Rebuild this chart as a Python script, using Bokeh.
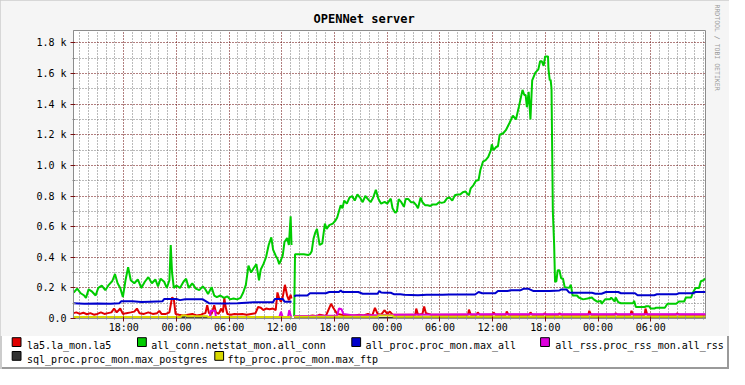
from bokeh.plotting import figure
from bokeh.models import FixedTicker, Range1d, Title
from bokeh.core.properties import value
from bokeh.embed import file_html
from bokeh.resources import INLINE

nan = float("nan")

# ---- axis ticks (hours counted from day-1 00:00) ----
x_tick_hours = [18, 24, 30, 36, 42, 48, 54, 60, 66, 72, 78]
x_tick_labels = ["18:00", "00:00", "06:00", "12:00", "18:00", "00:00",
                 "06:00", "12:00", "18:00", "00:00", "06:00"]
x_minor_hours = [13, 14, 15, 16, 17, 19, 20, 21, 22, 23, 25, 26, 27, 28, 29,
                 31, 32, 33, 34, 35, 37, 38, 39, 40, 41, 43, 44, 45, 46, 47,
                 49, 50, 51, 52, 53, 55, 56, 57, 58, 59, 61, 62, 63, 64, 65,
                 67, 68, 69, 70, 71, 73, 74, 75, 76, 77, 79, 80, 81, 82, 83, 84]
y_tick_values = [0, 200, 400, 600, 800, 1000, 1200, 1400, 1600, 1800]
y_tick_labels = ["0.0", "0.2 k", "0.4 k", "0.6 k", "0.8 k", "1.0 k",
                 "1.2 k", "1.4 k", "1.6 k", "1.8 k"]
y_minor_values = [100, 300, 500, 700, 900, 1100, 1300, 1500, 1700]

# ---- series: (hour, value) ----
la5 = [(12.28, 35), (12.6, 40), (13.0, 30), (13.4, 38), (13.8, 28), (14.2, 35),
       (14.6, 25), (15.0, 30), (15.4, 40), (15.8, 30), (16.2, 35), (16.6, 40),
       (16.9, 65), (17.2, 40), (17.6, 65), (17.9, 30), (18.3, 35), (18.8, 40),
       (19.2, 45), (19.5, 65), (19.8, 35), (20.3, 30), (20.8, 40), (21.3, 30),
       (21.8, 35), (22.05, 50), (22.3, 30), (22.8, 30), (23.2, 40), (23.5, 137),
       (23.7, 127), (23.9, 30), (24.3, 25), (24.8, 20), (25.3, 25), (25.8, 30),
       (26.3, 20), (26.8, 25), (27.0, 30), (27.3, 35), (27.5, 87), (27.7, 35),
       (28.0, 30), (28.3, 87), (28.5, 40), (28.8, 30), (29.1, 65), (29.3, 40),
       (29.45, 137), (29.6, 75), (29.8, 30), (30.2, 25), (30.6, 30), (31.0, 28),
       (31.5, 30), (32.0, 25), (32.5, 30), (33.0, 35), (33.3, 75), (33.6, 70),
       (33.9, 55), (34.2, 65), (34.6, 60), (35.0, 65), (35.3, 55), (35.5, 170),
       (35.7, 130), (35.9, 110), (36.1, 140), (36.35, 220), (36.6, 150),
       (36.8, 120), (37.0, 155), (37.1, 130), (37.2, nan),
       (37.4, 10), (38.0, 15), (38.5, 10), (39.0, 15), (39.5, 20), (40.0, 15),
       (40.3, 25), (40.7, 20), (41.0, 15), (41.6, 96), (41.9, 65), (42.3, 30),
       (42.8, 25), (43.3, 20), (43.8, 20), (44.3, 20), (44.8, 25), (45.3, 20),
       (45.8, 30), (46.3, 20), (46.6, 70), (46.9, 30), (47.3, 25), (47.7, 54),
       (48.0, 30), (48.3, 45), (48.6, 25), (49.5, 25), (51.2, 25), (51.3, 65),
       (51.5, 25), (52.0, 30), (52.2, 79), (52.4, 35), (53.0, 25), (55.0, 25),
       (57.2, 25), (57.3, 58), (57.5, 25), (58.2, 25), (58.3, 40), (58.5, 25),
       (60.0, 25), (60.1, 40), (60.3, 25), (61.5, 25), (61.6, 45), (61.8, 25),
       (64.2, 25), (64.3, 40), (64.5, 25), (65.8, 25), (65.9, 35), (66.1, 25),
       (67.5, 25), (67.6, 35), (67.8, 25), (70.9, 25), (71.0, 50), (71.2, 25),
       (73.9, 25), (74.0, 35), (74.2, 25), (75.7, 25), (75.8, 50), (76.0, 25),
       (77.3, 25), (77.4, 65), (77.6, 25), (80.9, 25), (81.0, 35), (81.2, 25),
       (84.23, 25)]

all_conn = [(12.3, 170), (12.7, 195), (13.1, 165), (13.5, 150), (13.7, 135),
            (14.0, 190), (14.4, 175), (14.8, 150), (15.1, 200), (15.5, 215),
            (15.9, 185), (16.3, 220), (16.7, 245), (17.0, 290), (17.3, 230),
            (17.6, 200), (17.9, 140), (18.2, 250), (18.5, 335), (18.8, 250),
            (19.2, 230), (19.6, 255), (20.0, 200), (20.4, 240), (20.8, 270),
            (21.2, 230), (21.6, 255), (21.9, 210), (22.2, 260), (22.6, 240),
            (22.9, 200), (23.2, 250), (23.35, 480), (23.5, 300), (23.7, 200),
            (24.0, 215), (24.4, 200), (24.8, 240), (25.1, 260), (25.4, 200),
            (25.8, 230), (26.2, 195), (26.6, 185), (27.0, 210), (27.3, 190),
            (27.6, 160), (28.0, 205), (28.3, 150), (28.6, 140), (29.0, 150),
            (29.4, 135), (29.8, 145), (30.1, 125), (30.5, 130), (30.9, 125),
            (31.3, 135), (31.6, 170), (31.9, 220), (32.2, 345), (32.5, 300),
            (32.8, 330), (33.1, 355), (33.4, 250), (33.6, 320), (33.9, 355),
            (34.2, 400), (34.5, 480), (34.8, 530), (35.0, 450), (35.3, 410),
            (35.5, 390), (35.7, 355), (36.1, 410), (36.3, 500), (36.6, 525),
            (36.8, 480), (37.0, 668), (37.1, 480), (37.2, nan),
            (37.4, 15), (37.5, 420), (38.0, 420), (38.5, 420), (39.0, 415),
            (39.2, 420), (39.4, 440), (39.6, 520), (39.8, 560), (40.0, 585),
            (40.3, 480), (40.6, 490), (40.9, 620), (41.1, 585), (41.4, 610),
            (41.8, 620), (42.1, 640), (42.3, 660), (42.5, 700), (42.7, 740),
            (42.9, 720), (43.1, 770), (43.4, 750), (43.7, 790), (44.0, 800),
            (44.3, 770), (44.6, 810), (44.9, 790), (45.2, 760), (45.5, 800),
            (45.8, 780), (46.1, 760), (46.4, 790), (46.7, 840), (47.0, 780),
            (47.3, 750), (47.7, 762), (48.0, 750), (48.4, 783), (48.6, 720),
            (48.9, 690), (49.1, 700), (49.3, 780), (49.6, 760), (49.9, 730),
            (50.1, 780), (50.4, 780), (50.7, 760), (51.0, 760), (51.3, 740),
            (51.5, 720), (51.8, 790), (52.0, 760), (52.3, 740), (52.6, 740),
            (52.9, 735), (53.2, 745), (53.6, 745), (53.9, 760), (54.2, 755),
            (54.5, 760), (54.8, 785), (55.1, 790), (55.4, 770), (55.7, 805),
            (56.0, 810), (56.3, 810), (56.6, 825), (56.9, 830), (57.1, 815),
            (57.3, 805), (57.5, 850), (57.8, 870), (58.1, 900), (58.4, 905),
            (58.6, 970), (58.9, 1025), (59.2, 1035), (59.5, 1055), (59.8, 1100),
            (59.9, 1137), (60.1, 1100), (60.4, 1120), (60.6, 1125), (60.8, 1200),
            (61.2, 1210), (61.5, 1230), (61.9, 1275), (62.3, 1325), (62.65, 1300),
            (63.0, 1387), (63.4, 1493), (63.6, 1460), (63.75, 1460), (63.9, 1380),
            (64.1, 1480), (64.3, 1300), (64.5, 1556), (64.86, 1606), (65.2, 1627),
            (65.4, 1680), (65.6, 1680), (65.8, 1650), (65.97, 1712), (66.3, 1712),
            (66.35, 1630), (66.5, 1556), (66.6, 1560), (66.7, 1500), (66.85, 700),
            (67.0, 480), (67.1, 240), (67.25, 243), (67.4, 315), (67.6, 315),
            (67.8, 262), (68.0, 262), (68.2, 205), (68.7, 200), (68.9, 220),
            (69.1, 150), (69.6, 150), (69.8, 137), (70.3, 125), (70.8, 130),
            (71.3, 137), (71.5, 125), (71.9, 110), (72.3, 115), (72.4, 96),
            (72.8, 125), (73.35, 125), (73.5, 137), (73.9, 110), (74.0, 137),
            (74.3, 106), (74.6, 100), (76.0, 100), (76.1, 115), (76.3, 75),
            (77.3, 75), (77.5, 80), (77.8, 80), (78.0, 65), (78.4, 65),
            (78.6, 70), (79.6, 70), (79.9, 96), (80.9, 96), (81.2, 111),
            (81.8, 111), (82.0, 137), (82.6, 137), (82.8, 170), (83.1, 200),
            (83.5, 200), (83.7, 243), (84.0, 250), (84.23, 262)]

all_proc = [(12.28, 100), (13.5, 97), (15.0, 98), (16.5, 96), (17.5, 100),
            (17.7, 112), (19.0, 112), (20.0, 108), (21.0, 110), (22.4, 112),
            (22.6, 127), (24.0, 127), (24.4, 120), (25.0, 125), (27.0, 125),
            (27.7, 100), (29.0, 98), (31.0, 100), (32.8, 106), (35.0, 106),
            (35.2, 128), (36.1, 128), (36.3, 110), (37.1, 110), (37.2, nan),
            (37.4, 145), (37.6, 150), (38.9, 150), (39.2, 165), (41.0, 165),
            (41.4, 173), (42.5, 173), (42.7, 183), (42.9, 173), (44.7, 173),
            (45.2, 162), (46.9, 162), (47.1, 180), (47.3, 170), (47.7, 168),
            (48.4, 168), (48.8, 158), (49.5, 158), (49.9, 155), (51.5, 152),
            (52.5, 155), (54.3, 155), (55.1, 157), (58.0, 157), (58.4, 173),
            (58.8, 165), (60.3, 165), (60.6, 180), (61.7, 180), (62.1, 185),
            (63.2, 185), (63.5, 194), (64.1, 194), (64.6, 180), (66.5, 180),
            (67.6, 183), (67.8, 190), (68.4, 190), (68.7, 170), (69.1, 168),
            (71.3, 168), (71.7, 162), (72.4, 162), (72.9, 173), (74.3, 173),
            (74.6, 165), (76.2, 165), (76.5, 152), (78.4, 152), (78.7, 158),
            (80.9, 158), (81.2, 165), (82.8, 165), (83.1, 173), (84.23, 173)]

all_rss = [(12.28, 8), (27.8, 8), (27.9, 50), (28.4, 50), (28.5, 8), (35.7, 8),
           (35.9, 43), (36.1, 10), (36.7, 10), (36.85, 55), (37.0, 20),
           (37.1, 10), (37.2, nan), (37.4, 17), (40.0, 18), (42.3, 20),
           (42.5, 65), (42.8, 60), (43.0, 30), (44.0, 22), (47.0, 23),
           (50.0, 25), (55.0, 26), (60.0, 27), (70.0, 28), (84.23, 28)]

sql_proc = [(12.28, 4), (24.5, 4), (24.6, 10), (27.5, 10), (27.6, 4),
            (37.1, 4), (37.2, nan), (37.4, 3), (84.23, 3)]

ftp_proc = [(12.28, 10), (24.5, 10), (24.6, 20), (25.1, 20), (25.2, 15),
            (27.5, 15), (27.6, 10), (37.1, 10), (37.2, nan), (37.4, 12),
            (46.9, 12), (47.0, 20), (48.6, 20), (48.7, 12), (84.23, 12)]

series_names = ["la5.la_mon.la5", "all_conn.netstat_mon.all_conn",
                "all_proc.proc_mon.max_all", "all_rss.proc_rss_mon.all_rss",
                "sql_proc.proc_mon.max_postgres", "ftp_proc.proc_mon.max_ftp"]
series_colors = ["#E00000", "#00CC00", "#0000CC", "#DD00DD", "#333333", "#D8D800"]
series_data = [la5, all_conn, all_proc, all_rss, sql_proc, ftp_proc]

MONO = "DejaVu Sans Mono"
GRID_MAJOR = "#650000"
GRID_MINOR = "#777777"
W = 729
MAIN_H = 336
LEG_H = 33

p = figure(width=W, height=MAIN_H, output_backend="svg", toolbar_location=None,
           title="OPENNet server",
           x_range=Range1d(12.28, 84.23), y_range=Range1d(0, 1881),
           min_border_left=73, min_border_right=20, min_border_top=30,
           min_border_bottom=18, background_fill_color="white",
           border_fill_color="#f5f5f5", outline_line_color="#8c8c8c",
           styles={"box-shadow": "inset 2px 2px 0 #cccccc, inset -2px 0 0 #9a9a9a"})

p.title.text_font = MONO
p.title.text_font_style = "bold"
p.title.text_font_size = "12px"
p.title.text_color = "black"
p.title.align = "left"
p.title.offset = 240
p.title.standoff = 9

xt = FixedTicker(ticks=x_tick_hours, minor_ticks=x_minor_hours)
yt = FixedTicker(ticks=y_tick_values, minor_ticks=y_minor_values)
p.xaxis.ticker = xt
p.yaxis.ticker = yt
p.xaxis.major_label_overrides = {h: s for h, s in zip(x_tick_hours, x_tick_labels)}
p.yaxis.major_label_overrides = {v: s for v, s in zip(y_tick_values, y_tick_labels)}
for ax in (p.xaxis[0], p.yaxis[0]):
    ax.axis_line_color = "#8c8c8c"
    ax.major_tick_line_color = "#7a1010"
    ax.minor_tick_line_color = "#8a8a8a"
    ax.major_tick_in = 2
    ax.major_tick_out = 3
    ax.minor_tick_in = 2
    ax.minor_tick_out = 1
    ax.major_label_text_font = MONO
    ax.major_label_text_font_size = "10px"
    ax.major_label_text_color = "black"
p.xaxis.major_label_standoff = 0
p.yaxis.major_label_standoff = 4

for g in (p.xgrid[0], p.ygrid[0]):
    g.grid_line_color = GRID_MAJOR
    g.grid_line_dash = "1 2"
    g.minor_grid_line_color = GRID_MINOR
    g.minor_grid_line_dash = "1 2"

for data, color in zip(series_data, series_colors):
    t = [d[0] for d in data]
    v = [d[1] for d in data]
    p.line(t, v, line_color=color, line_width=2)

# vertical credit text at the right edge
credit = Title(text="RRDTOOL / TOBI OETIKER", align="left", offset=-26,
               text_font=MONO, text_font_size="6.5px", text_font_style="normal",
               text_color="#999999", standoff=14)
p.add_layout(credit, "right")

# ---- legend strip (pixel coordinates inside a strip below the chart) ----
key_left = [11.7, 137.0, 351.3, 540.1, 11.7, 214.3]
key_mid = [27.4, 27.4, 27.4, 27.4, 13.6, 13.6]
text_left = [26.4, 150.7, 365.0, 554.8, 26.4, 227.0]
text_base = [23.9, 23.9, 23.9, 23.9, 10.1, 10.1]

lg = figure(width=W, height=LEG_H, output_backend="svg", toolbar_location=None,
            x_range=Range1d(0, W), y_range=Range1d(0, LEG_H),
            x_axis_location=None, y_axis_location=None,
            min_border=0, min_border_left=0, min_border_right=0,
            min_border_top=0, min_border_bottom=0,
            background_fill_color=None, border_fill_color="#f5f5f5",
            outline_line_color=None,
            styles={"box-shadow": "inset 2px 0 0 #cccccc, inset -2px -2px 0 #9a9a9a"})
lg.grid.visible = False
lg.quad(left=key_left, right=[k + 8.8 for k in key_left],
        bottom=[m - 4.4 for m in key_mid], top=[m + 4.4 for m in key_mid],
        fill_color=series_colors, line_color="black", line_width=1)
lg.text(x=text_left, y=text_base, text=series_names, text_font=value(MONO),
        text_font_size="10px", text_color="black", text_align="left",
        text_baseline="alphabetic")

open("out.html", "w").write(file_html([p, lg], INLINE))
